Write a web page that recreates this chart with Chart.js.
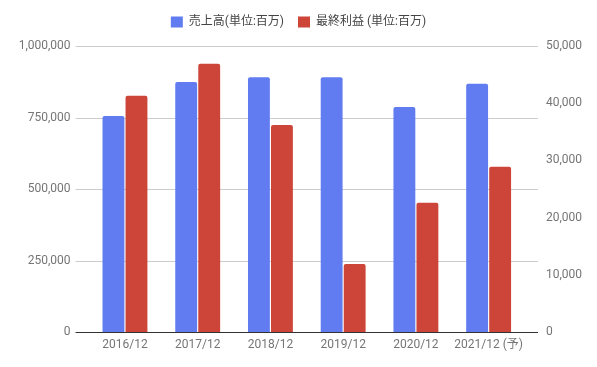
<!DOCTYPE html>
<html>
<head>
<meta charset="utf-8">
<script src="https://cdn.jsdelivr.net/npm/chart.js@4"></script>
<style>
  html, body { margin: 0; padding: 0; background: #fff; }
  #wrap { width: 597px; height: 367px; }
</style>
</head>
<body>
<div id="wrap"><canvas id="grafico" width="597" height="367"></canvas></div>
<script>
const anos = ["2016/12", "2017/12", "2018/12", "2019/12", "2020/12", "2021/12 (予)"];
const vendas = [755000, 874000, 891000, 891000, 787000, 868000];
const lucro = [41300, 46900, 36200, 11900, 22600, 28900];
const ticksEsquerda = [0, 250000, 500000, 750000, 1000000];
const ticksDireita = [0, 10000, 20000, 30000, 40000, 50000];

const fonte = 'Roboto, "Noto Sans CJK JP", sans-serif';

// linhas de grade um pouco mais largas que a área dos dados
const gradeLarga = {
  id: 'gradeLarga',
  beforeDatasetsDraw(chart) {
    const ctx = chart.ctx;
    const area = chart.chartArea;
    const y = chart.scales.y;
    ctx.save();
    ctx.strokeStyle = '#cccccc';
    ctx.lineWidth = 1;
    ticksEsquerda.forEach(v => {
      if (v === 0) return;
      const py = Math.round(y.getPixelForValue(v)) + 0.5;
      ctx.beginPath();
      ctx.moveTo(area.left - 13, py);
      ctx.lineTo(area.right + 13, py);
      ctx.stroke();
    });
    ctx.restore();
  },
  afterDatasetsDraw(chart) {
    const ctx = chart.ctx;
    const area = chart.chartArea;
    const py = Math.round(chart.scales.y.getPixelForValue(0)) + 0.5;
    ctx.save();
    ctx.strokeStyle = '#333333';
    ctx.lineWidth = 1;
    ctx.beginPath();
    ctx.moveTo(area.left - 13, py);
    ctx.lineTo(area.right + 13, py);
    ctx.stroke();
    ctx.restore();
  }
};

const grafico = new Chart(document.getElementById("grafico"), {
  type: 'bar',
  data: {
    labels: anos,
    datasets: [{
      label: '売上高(単位:百万)',
      data: vendas,
      backgroundColor: '#607cf0',
      yAxisID: 'y',
      borderRadius: 2,
      borderSkipped: 'bottom'
    }, {
      label: '最終利益 (単位:百万)',
      data: lucro,
      backgroundColor: '#cd4539',
      yAxisID: 'y2',
      borderRadius: 2,
      borderSkipped: 'bottom'
    }]
  },
  options: {
    responsive: false,
    animation: false,
    layout: { padding: { top: 2, left: 0, right: 0, bottom: 0 } },
    datasets: {
      bar: { categoryPercentage: 0.633, barPercentage: 0.95 }
    },
    plugins: {
      legend: {
        position: 'top',
        labels: {
          boxWidth: 12,
          boxHeight: 11,
          padding: 14,
          color: '#444444',
          font: { family: fonte, size: 12 }
        }
      },
      // subtítulo vazio só para abrir espaço entre a legenda e o gráfico
      subtitle: {
        display: true,
        text: ' ',
        position: 'top',
        weight: 500,
        padding: 0,
        font: { size: 8, lineHeight: 1 }
      },
      tooltip: { enabled: false }
    },
    scales: {
      x: {
        grid: { display: false, drawTicks: false },
        border: { display: false },
        ticks: {
          color: '#757575',
          padding: 6,
          maxRotation: 0,
          font: { family: fonte, size: 12 }
        },
        afterFit(scale) { scale.height = 35; }
      },
      y: {
        position: 'left',
        min: 0,
        max: 1000000,
        afterBuildTicks(scale) { scale.ticks = ticksEsquerda.map(v => ({ value: v })); },
        grid: { display: false, drawTicks: false },
        border: { display: false },
        ticks: {
          color: '#757575',
          padding: 18,
          font: { family: fonte, size: 12 },
          callback: v => v.toLocaleString('en-US')
        },
        afterFit(scale) { scale.width = 88.6; }
      },
      y2: {
        position: 'right',
        min: 0,
        max: 50000,
        afterBuildTicks(scale) { scale.ticks = ticksDireita.map(v => ({ value: v })); },
        grid: { display: false, drawTicks: false },
        border: { display: false },
        ticks: {
          color: '#757575',
          padding: 21,
          font: { family: fonte, size: 12 },
          callback: v => v.toLocaleString('en-US')
        },
        afterFit(scale) { scale.width = 72; }
      }
    }
  },
  plugins: [gradeLarga]
});
</script>
</body>
</html>
